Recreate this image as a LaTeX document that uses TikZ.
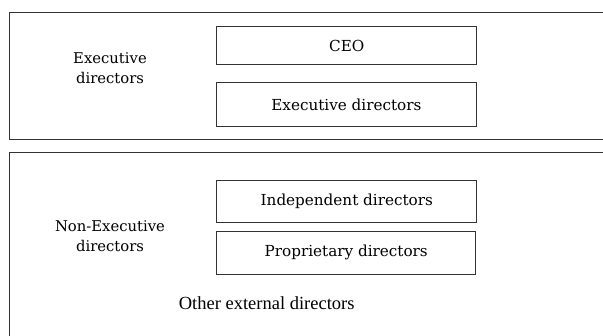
\documentclass[tikz,border=0pt]{standalone}
\usepackage{fontspec}
\setmainfont{DejaVu Serif}
\newfontfamily\timesfont{Liberation Serif}
\begin{document}
\begin{tikzpicture}[x=1pt,y=-1pt,
  dirbox/.style={draw=black!80,line width=0.8pt,minimum width=260pt,inner sep=0pt,font=\fontsize{15.2}{17}\selectfont},
  grouplabel/.style={align=center,font=\fontsize{14.8}{20}\selectfont}]
\useasboundingbox (0,0) rectangle (603,336);
\clip (0,0) rectangle (603,336);

% Executive
\draw[black!80,line width=0.8pt] (9.5,12.7) rectangle (620,139);
\node[grouplabel] (exec) at (110,68) {Executive\\directors};
\node[dirbox,minimum height=37.6pt] (ceo) at (346.8,45.5) {CEO};
\node[dirbox,minimum height=44pt,minimum width=259.3pt] (execdir) at (346.4,104.7) {Executive directors};

% Non-Executive
\draw[black!80,line width=0.8pt] (9.5,152) rectangle (620,350);
\node[grouplabel] (nonexec) at (110,236.5) {Non-Executive\\directors};
\node[dirbox,minimum height=41.6pt] (indep) at (346.8,201.5) {Independent directors};
\node[dirbox,minimum height=43.3pt,minimum width=259pt] (propr) at (346.2,252.7) {Proprietary directors};
\node[font=\timesfont\fontsize{18.5}{20}\selectfont] (other) at (266.7,303) {Other external directors};
\end{tikzpicture}
\end{document}
